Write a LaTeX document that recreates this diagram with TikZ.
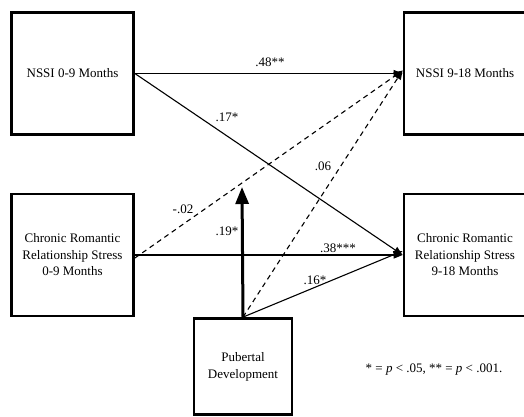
\documentclass[tikz,border=0pt]{standalone}
\usepackage{fontspec}
\setmainfont{Liberation Serif}
\usetikzlibrary{arrows.meta}
\begin{document}
\begin{tikzpicture}[x=1pt,y=-1pt,
  font=\fontsize{13}{16.5}\selectfont,
  box/.style={draw,line width=2.8pt,minimum width=122pt,minimum height=122pt,inner sep=2pt,align=center},
  conn/.style={line width=1.1pt,-{Triangle[length=9pt,width=7pt]}},
  dconn/.style={conn,dash pattern=on 5pt off 4pt},
  bigconn/.style={line width=3pt,-{Triangle[length=17pt,width=13pt]}},
  lbl/.style={inner sep=0pt}]
\useasboundingbox (0,0) rectangle (524,416);
\node[box] (n1) at (72.5,73.5) {NSSI 0-9 Months};
\node[box] (n2) at (465,73.5) {NSSI 9-18 Months};
\node[box] (c1) at (72.5,255) {Chronic Romantic\\Relationship Stress\\0-9 Months};
\node[box] (c2) at (465,255) {Chronic Romantic\\Relationship Stress\\9-18 Months};
\node[box,minimum width=98pt,minimum height=96pt] (pd) at (243,366.5) {\raisebox{-3pt}{\begin{tabular}{@{}c@{}}Pubertal\\Development\end{tabular}}};
\coordinate (mid) at (242,187);
\draw[conn] (n1.east) -- (n2.west);
\draw[conn] (n1.east) -- (c2.west);
\draw[conn] (c1.east) -- (c2.west);
\draw[dconn] ([yshift=-3pt]c1.east) -- ([yshift=3pt]n2.west);
\draw[dconn] (pd.north) -- ([yshift=3pt]n2.west);
\draw[conn] (pd.north) -- ([yshift=4pt]c2.west);
\draw[bigconn] (pd.north) -- (mid);
\node[lbl] (l48) at (270,62) {.48**};
\node[lbl] (l17) at (227,117) {.17*};
\node[lbl] (l06) at (323,166) {.06};
\node[lbl] (l02) at (183,209) {-.02};
\node[lbl] (l19) at (227,231) {.19*};
\node[lbl] (l38) at (338,248) {.38***};
\node[lbl] (l16) at (315,280) {.16*};
\node[lbl] (leg) at (434,370) {* = \textit{p} < .05, ** = \textit{p} < .001.};
\end{tikzpicture}
\end{document}
